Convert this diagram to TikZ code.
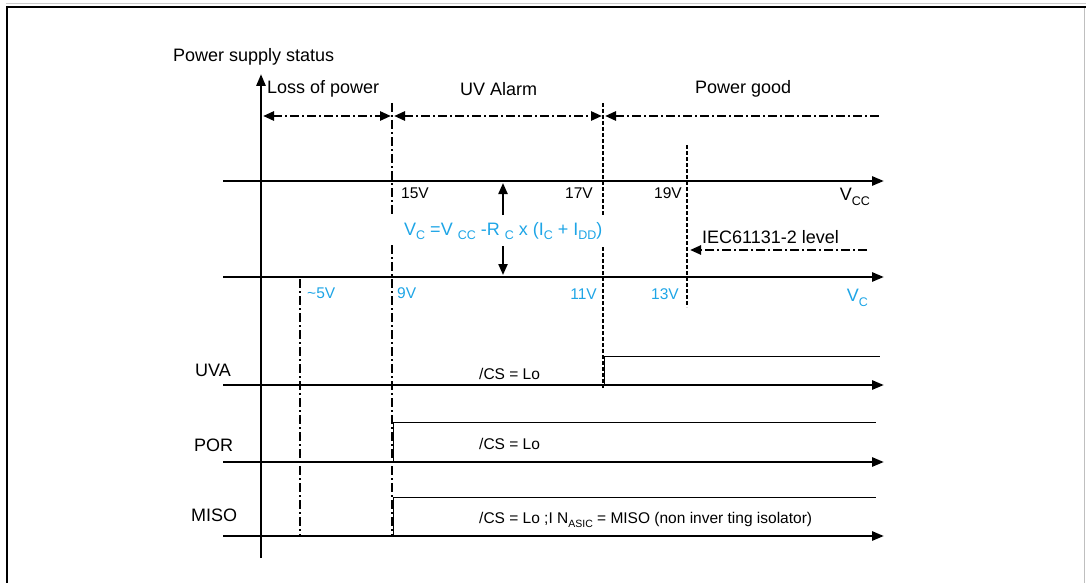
\documentclass[tikz,border=0pt]{standalone}
\usepackage{fontspec}
\setmainfont{Liberation Sans}
\usetikzlibrary{arrows.meta}
\definecolor{vcblue}{RGB}{30,165,230}
\newcommand{\sbs}[1]{\raisebox{-0.45ex}{\fontsize{12.5}{12.5}\selectfont #1}}
\newcommand{\sbss}[1]{\raisebox{-0.4ex}{\fontsize{10.5}{10.5}\selectfont #1}}
\begin{document}
\begin{tikzpicture}[x=1pt,y=-1pt,
  big/.style={font=\fontsize{18}{20}\selectfont, inner sep=0pt},
  small/.style={font=\fontsize{15.5}{17}\selectfont, inner sep=0pt},
  tipT/.style={-{Triangle[length=11pt,width=9pt]}},
  axis/.style={line width=2.7pt, -{Triangle[length=12pt,width=9pt]}},
  dashdotline/.style={line width=2.2pt, dash pattern=on 9pt off 3pt on 2pt off 3pt},
  dotline/.style={line width=2.8pt, dash pattern=on 4pt off 2pt},
  level/.style={line width=1pt},
]
\useasboundingbox (0,0) rectangle (1086,583);
% frame
\draw[gray!40, line width=1pt] (6,4) -- (1086,4);
\draw[line width=2.8pt] (6,7) -- (1086,7);
\draw[line width=2.2pt] (7,6) -- (7,583);
\draw[gray!50, line width=1pt] (1084,8) -- (1084,583);

% coordinates
\coordinate (yb) at (261,558); \coordinate (yt) at (261,74);
\foreach \n/\y in {vcc/181, vc/277, uva/385, por/462, miso/536}{
  \coordinate (\n L) at (223,\y); \coordinate (\n R) at (884,\y);
}
% axes
\draw[axis] (yb) -- (yt);
\foreach \n in {vcc, vc, uva, por, miso}{ \draw[axis] (\n L) -- (\n R); }

% status arrows
\coordinate (s1) at (263,116); \coordinate (s2) at (391,116);
\coordinate (s3) at (394,116); \coordinate (s4) at (602,116);
\coordinate (s5) at (605,116); \coordinate (s6) at (880,116);
\draw[dashdotline, line width=2.6pt, {Triangle[length=11pt,width=9pt]}-{Triangle[length=11pt,width=9pt]}] (s1) -- (s2);
\draw[dashdotline, line width=2.6pt, {Triangle[length=11pt,width=9pt]}-{Triangle[length=11pt,width=9pt]}] (s3) -- (s4);
\draw[dashdotline, line width=2.6pt, {Triangle[length=11pt,width=9pt]}-] (s5) -- (s6);

% vertical markers
\coordinate (a1) at (392,103); \coordinate (a2) at (392,215);
\coordinate (a3) at (392,245); \coordinate (a4) at (392,536);
\draw[dashdotline] (a1) -- (a2); \draw[dashdotline] (a3) -- (a4);
\coordinate (b1) at (603,103); \coordinate (b2) at (603,215);
\coordinate (b3) at (603,247); \coordinate (b4) at (603,388);
\draw[dotline] (b1) -- (b2); \draw[dotline] (b3) -- (b4);
\coordinate (c1) at (687,145); \coordinate (c2) at (687,307);
\draw[dotline] (c1) -- (c2);
\coordinate (d1) at (300,279); \coordinate (d2) at (300,536);
\draw[dashdotline] (d1) -- (d2);

% logic levels
\coordinate (u0) at (604,385); \coordinate (u1) at (604,356); \coordinate (u2) at (880,356);
\draw[level] (u0) -- (u1) -- (u2);
\coordinate (p0) at (393,462); \coordinate (p1) at (393,422); \coordinate (p2) at (876,422);
\draw[level] (p0) -- (p1) -- (p2);
\coordinate (m0) at (393,536); \coordinate (m1) at (393,497); \coordinate (m2) at (876,497);
\draw[level] (m0) -- (m1) -- (m2);

% double arrow
\coordinate (e1) at (503,215); \coordinate (e2) at (503,183);
\coordinate (e3) at (503,246); \coordinate (e4) at (503,275);
\draw[line width=2.2pt, tipT] (e1) -- (e2);
\draw[line width=2.2pt, tipT] (e3) -- (e4);

% IEC arrow
\coordinate (f1) at (867,250); \coordinate (f2) at (690,250);
\draw[dashdotline, line width=2.4pt, tipT] (f1) -- (f2);

% texts
\node[big, anchor=west] (pss) at (173,57) {Power supply status};
\node[big, anchor=west] (lop) at (267,89) {Loss of power};
\node[big, anchor=west] (uval) at (460,89) {UV Alarm};
\node[big, anchor=west] (pg) at (695,89) {Power good};

\node[small, anchor=west] (v15) at (401,193) {15V};
\node[small, anchor=east] (v17) at (593,193) {17V};
\node[small, anchor=east] (v19) at (682,193) {19V};
\node[small, anchor=west, text=vcblue] (v5) at (307,293) {\char"007E 5V};
\node[small, anchor=west, text=vcblue] (v9) at (397,293) {9V};
\node[small, anchor=east, text=vcblue] (v11) at (597,294) {11V};
\node[small, anchor=east, text=vcblue] (v13) at (679,294) {13V};

\node[big, anchor=east] (lvcc) at (870,197) {V\sbs{CC}};
\node[big, anchor=east, text=vcblue] (lvc) at (868,298) {V\sbs{C}};

\node[big, anchor=west, text=vcblue] (form) at (404,231) {V\sbs{C} =V \sbs{CC} -R \sbs{C} x (I\sbs{C} + I\sbs{DD})};
\node[big, anchor=west] (iec) at (702,237) {IEC61131-2 level};

\node[big, anchor=west] (luva) at (195,370) {UVA};
\node[big, anchor=west] (lpor) at (194,445) {POR};
\node[big, anchor=west] (lmiso) at (191,515) {MISO};

\node[small, anchor=west] (cs1) at (479,374) {/CS = Lo};
\node[small, anchor=west] (cs2) at (479,444) {/CS = Lo};
\node[small, anchor=west] (cs3) at (479,520) {/CS = Lo ;I N\sbss{ASIC} = MISO (non inver ting isolator)};
\end{tikzpicture}
\end{document}
